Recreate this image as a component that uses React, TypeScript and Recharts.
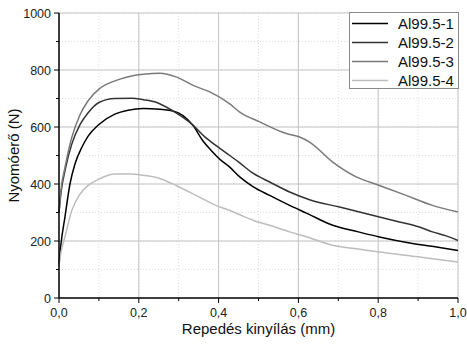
import React from "react";
import {
  LineChart,
  Line,
  XAxis,
  YAxis,
  CartesianGrid,
  ReferenceLine,
  Legend,
} from "recharts";

const seriesNames = ["Al99.5-1", "Al99.5-2", "Al99.5-3", "Al99.5-4"];
const seriesColors = ["#000000", "#333333", "#7a7a7a", "#bdbdbd"];

const s1X = [0, 0.005, 0.015, 0.0275, 0.04, 0.057, 0.073, 0.1, 0.14, 0.173, 0.211, 0.253, 0.286, 0.311, 0.336, 0.361, 0.382, 0.403, 0.428, 0.453, 0.486, 0.528, 0.578, 0.62, 0.686, 0.75, 0.803, 0.886, 0.95, 1.0];
const s1Y = [120, 190, 285, 400, 470, 528, 568, 609, 645, 659, 665, 662, 656, 640, 605, 551, 517, 487, 459, 425, 391, 360, 325, 298, 255, 232, 214, 191, 178, 167];

const s2X = [0, 0.005, 0.015, 0.032, 0.053, 0.073, 0.1, 0.14, 0.182, 0.211, 0.245, 0.286, 0.328, 0.37, 0.403, 0.428, 0.453, 0.486, 0.528, 0.578, 0.628, 0.703, 0.753, 0.803, 0.853, 0.903, 0.936, 0.97, 1.0];
const s2Y = [300, 370, 447, 540, 609, 650, 686, 700, 701, 696, 686, 656, 616, 560, 525, 500, 474, 438, 407, 372, 345, 319, 302, 284, 267, 249, 232, 218, 202];

const s3X = [0, 0.005, 0.015, 0.032, 0.053, 0.073, 0.1, 0.14, 0.182, 0.211, 0.253, 0.295, 0.336, 0.378, 0.428, 0.453, 0.503, 0.57, 0.603, 0.628, 0.686, 0.745, 0.803, 0.87, 0.936, 1.0];
const s3Y = [300, 380, 458, 563, 644, 692, 733, 762, 779, 785, 789, 775, 746, 723, 681, 652, 618, 577, 565, 547, 477, 425, 395, 360, 325, 302];

const s4X = [0, 0.005, 0.015, 0.032, 0.053, 0.073, 0.1, 0.14, 0.182, 0.211, 0.245, 0.295, 0.345, 0.395, 0.428, 0.453, 0.486, 0.528, 0.578, 0.62, 0.686, 0.75, 0.803, 0.903, 1.0];
const s4Y = [110, 160, 215, 307, 365, 395, 417, 435, 435, 431, 423, 394, 359, 324, 307, 292, 273, 255, 232, 215, 185, 172, 161, 144, 126];

const xTicks = [0, 0.1, 0.2, 0.3, 0.4, 0.5, 0.6, 0.7, 0.8, 0.9, 1.0];
const yTicks = [0, 100, 200, 300, 400, 500, 600, 700, 800, 900, 1000];
const xMajor = [0.2, 0.4, 0.6, 0.8, 1.0];
const yMajor = [200, 400, 600, 800, 1000];

const zip = (xs: number[], ys: number[]) => xs.map((x, i) => ({ x, y: ys[i] }));
const series = [zip(s1X, s1Y), zip(s2X, s2Y), zip(s3X, s3Y), zip(s4X, s4Y)];

const font = "'Liberation Sans', Arial, sans-serif";

const XTick = (props: any) => {
  const { x, y, payload } = props;
  const v = payload.value as number;
  const major = Math.round(v * 10) % 2 === 0;
  return (
    <g>
      <line x1={x} x2={x} y1={y} y2={y + (major ? 5 : 3)} stroke="#000" strokeWidth={1} />
      {major && (
        <text x={x} y={y + 19} textAnchor="middle" fontSize={12.5} fontFamily={font} fill="#222">
          {v.toFixed(1).replace(".", ",")}
        </text>
      )}
    </g>
  );
};

const YTick = (props: any) => {
  const { x, y, payload } = props;
  const v = payload.value as number;
  const major = v % 200 === 0;
  return (
    <g>
      <line x1={x - (major ? 5 : 3)} x2={x} y1={y} y2={y} stroke="#000" strokeWidth={1} />
      {major && (
        <text x={x - 8} y={y + 4.5} textAnchor="end" fontSize={12.5} fontFamily={font} fill="#222">
          {v}
        </text>
      )}
    </g>
  );
};

const YLabel = (props: any) => {
  const vb = props.viewBox;
  const cx = vb.x + 13;
  const cy = vb.y + vb.height / 2;
  return (
    <text
      x={cx}
      y={cy}
      transform={`rotate(-90, ${cx}, ${cy})`}
      textAnchor="middle"
      dominantBaseline="central"
      fontSize={15}
      fontFamily={font}
      fill="#111"
    >
      Nyomóerő (N)
    </text>
  );
};

const LegendBox = () => (
  <div
    style={{
      width: 108,
      height: 74,
      border: "1px solid #8a8a8a",
      background: "#fff",
      paddingTop: 1,
      fontFamily: font,
    }}
  >
    {seriesNames.map((name, i) => (
      <div key={name} style={{ display: "flex", alignItems: "center", height: 19 }}>
        <svg width={48} height={19} style={{ flex: "none" }}>
          <line x1={2} x2={38} y1={9.5} y2={9.5} stroke={seriesColors[i]} strokeWidth={1.5} />
        </svg>
        <span style={{ fontSize: 15, color: "#111", lineHeight: "19px" }}>{name}</span>
      </div>
    ))}
  </div>
);

export default function App() {
  return (
    <div style={{ position: "absolute", left: 0, top: 0, width: 467, height: 346, background: "#fff" }}>
      <LineChart
        width={467}
        height={346}
        margin={{ top: 13, right: 9, left: 0, bottom: 0 }}
      >
        <CartesianGrid stroke="#dedede" strokeDasharray="1 2" />
        {xMajor.map((v) => (
          <ReferenceLine key={"x" + v} x={v} stroke="#c4c4c4" strokeWidth={1} />
        ))}
        {yMajor.map((v) => (
          <ReferenceLine key={"y" + v} y={v} stroke="#c4c4c4" strokeWidth={1} />
        ))}
        <XAxis
          type="number"
          dataKey="x"
          domain={[0, 1]}
          ticks={xTicks}
          interval={0}
          height={48}
          tickSize={0}
          tickMargin={0}
          tickLine={false}
          tick={XTick}
          axisLine={{ stroke: "#000", strokeWidth: 1.5 }}
          allowDuplicatedCategory={false}
          label={{
            value: "Repedés kinyílás (mm)",
            position: "insideBottom",
            offset: 12,
            fontSize: 15,
            fontFamily: font,
            fill: "#111",
          }}
        />
        <YAxis
          type="number"
          domain={[0, 1000]}
          ticks={yTicks}
          interval={0}
          width={59}
          tickSize={0}
          tickMargin={0}
          tickLine={false}
          tick={YTick}
          axisLine={{ stroke: "#000", strokeWidth: 1.5 }}
          label={{ content: YLabel }}
        />
        {series.map((d, i) => (
          <Line
            key={seriesNames[i]}
            data={d}
            dataKey="y"
            name={seriesNames[i]}
            type="monotone"
            stroke={seriesColors[i]}
            strokeWidth={1.5}
            dot={false}
            isAnimationActive={false}
          />
        ))}
        <Legend
          layout="vertical"
          align="center"
          verticalAlign="middle"
          content={() => <LegendBox />}
          wrapperStyle={{ position: "absolute", top: 12, left: 349, width: 110 }}
        />
      </LineChart>
    </div>
  );
}
